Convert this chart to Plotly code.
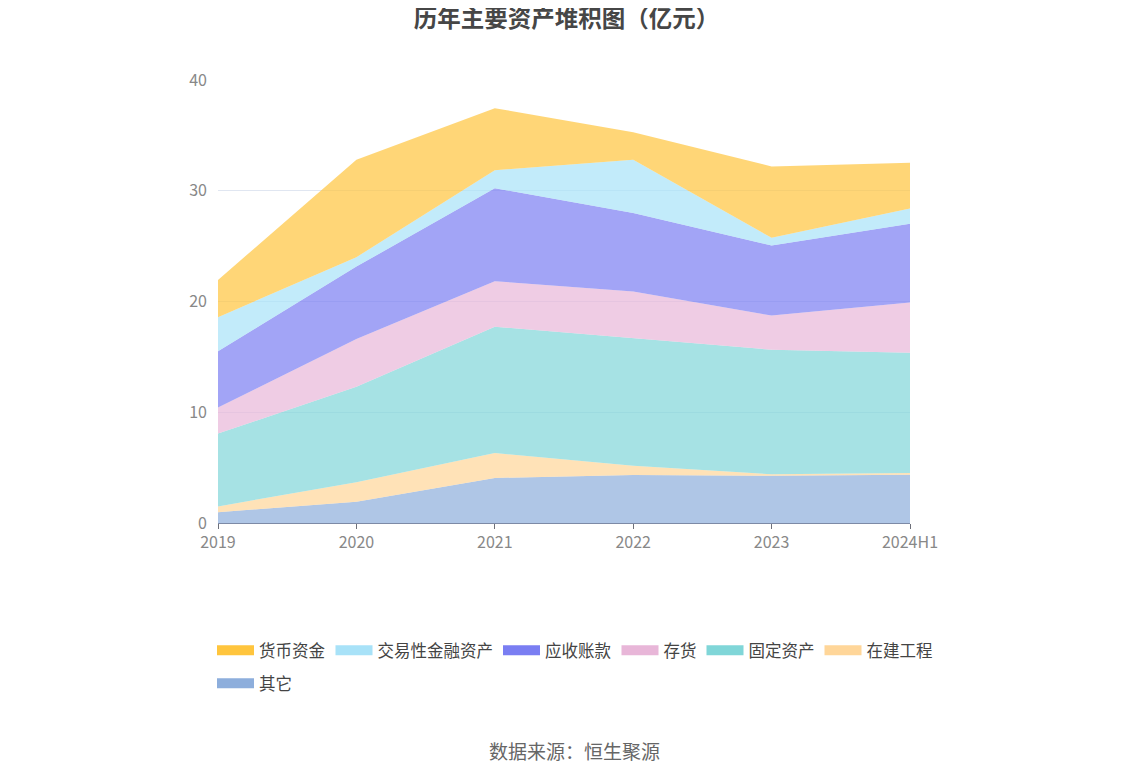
import plotly.graph_objects as go

categories = ["2019", "2020", "2021", "2022", "2023", "2024H1"]

# values in 亿元 (stack order bottom -> top)
qita = [0.97, 1.92, 4.07, 4.34, 4.27, 4.36]          # 其它
zaijian = [0.53, 1.76, 2.25, 0.84, 0.13, 0.16]       # 在建工程
guding = [6.57, 8.63, 11.41, 11.50, 11.25, 10.86]    # 固定资产
cunhuo = [2.35, 4.31, 4.10, 4.22, 3.08, 4.52]        # 存货
yingshou = [5.08, 6.53, 8.40, 7.10, 6.32, 7.11]      # 应收账款
jiaoyi = [3.08, 0.85, 1.63, 4.79, 0.70, 1.38]        # 交易性金融资产
huobi = [3.37, 8.79, 5.60, 2.50, 6.44, 4.13]         # 货币资金

series = [
    ("其它", qita, "141,174,220", "legend2"),
    ("在建工程", zaijian, "255,214,153", "legend"),
    ("固定资产", guding, "128,214,216", "legend"),
    ("存货", cunhuo, "232,182,216", "legend"),
    ("应收账款", yingshou, "122,126,242", "legend"),
    ("交易性金融资产", jiaoyi, "168,226,248", "legend"),
    ("货币资金", huobi, "255,197,61", "legend"),
]

FONT = "Noto Sans CJK SC, Microsoft YaHei, sans-serif"

W, H = 1139, 768  # page adds an 8px body margin
OFF = 8
L, R, T, B = 218 - OFF, W + OFF - 910, 80 - OFF, H + OFF - 523
PW, PH = 910 - 218, 523 - 80

fig = go.Figure()
for name, vals, rgb, lg in series:
    fig.add_trace(go.Scatter(
        x=categories, y=vals, name=name, mode="lines",
        stackgroup="one", line=dict(width=0, color=f"rgb({rgb})"),
        fillcolor=f"rgba({rgb},0.7)", showlegend=False,
    ))
# legend entries (thick swatches)
for name, vals, rgb, lg in series:
    fig.add_trace(go.Scatter(
        x=[None], y=[None], name=name, mode="lines",
        line=dict(width=18, color=f"rgb({rgb})"), legend=lg,
        hoverinfo="skip",
    ))

fig.update_layout(
    width=W, height=H,
    paper_bgcolor="white", plot_bgcolor="white",
    margin=dict(l=L, r=R, t=T, b=B),
    font=dict(family=FONT, color="#6E7079"),
    title=dict(text="<b>历年主要资产堆积图（亿元）</b>", x=(566.5 - OFF) / W, xanchor="center",
               xref="container", y=1 - (19 - OFF) / H, yanchor="middle",
               font=dict(size=23.5, color="#464646", family=FONT)),
    xaxis=dict(type="category", range=[0, 5], showgrid=False,
               showline=True, linecolor="#7D8AA6", linewidth=1,
               ticks="outside", ticklen=5, tickcolor="#6E7079",
               tickfont=dict(size=16, color="#888888")),
    yaxis=dict(range=[0, 40], dtick=10, showgrid=True, gridcolor="#E0E6F1",
               zeroline=False, showline=False, ticks="",
               tickfont=dict(size=16, color="#888888"), ticklabelstandoff=10),
    legend=dict(orientation="h", xref="paper", x=(212 - 218) / PW, xanchor="left",
                yref="paper", y=(523 - 633) / PH, yanchor="top",
                traceorder="reversed", font=dict(size=16.5, color="#444"),
                itemwidth=37, bgcolor="rgba(0,0,0,0)"),
    legend2=dict(orientation="h", xref="paper", x=(212 - 218) / PW, xanchor="left",
                 yref="paper", y=(523 - 666) / PH, yanchor="top",
                 font=dict(size=16.5, color="#444"), itemwidth=37,
                 bgcolor="rgba(0,0,0,0)"),
    showlegend=True,
)
fig.add_annotation(text="数据来源：恒生聚源", x=(574 - 218) / PW, xref="paper", xanchor="center",
                   y=(523 - 750) / PH, yref="paper", yanchor="middle",
                   showarrow=False, font=dict(size=19, color="#666", family=FONT))

fig.write_html("out.html")
